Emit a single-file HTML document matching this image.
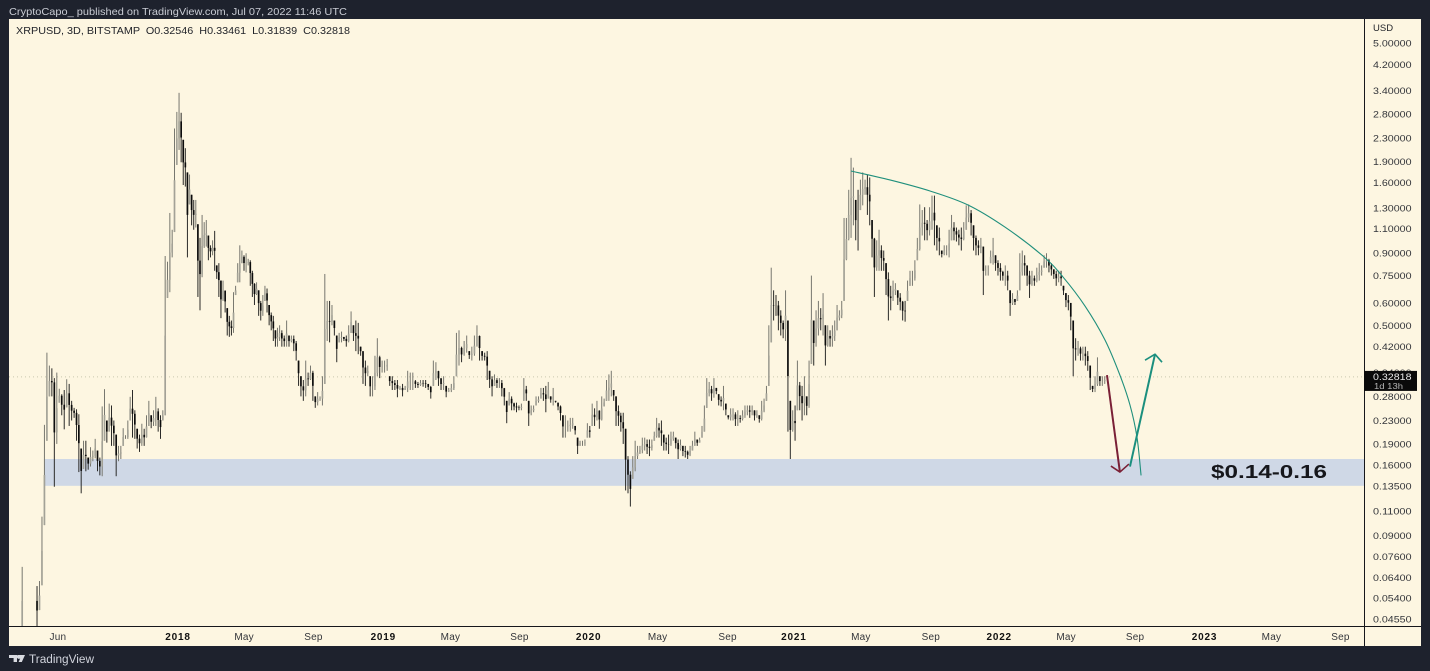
<!DOCTYPE html>
<html lang="en">
<head>
<meta charset="utf-8">
<title>XRPUSD 3D chart</title>
<style>
html,body{margin:0;padding:0;background:#1e222d;width:1430px;height:671px;overflow:hidden}
svg{display:block;font-family:"Liberation Sans",sans-serif}
</style>
</head>
<body>
<svg id="chart" xmlns="http://www.w3.org/2000/svg" width="1430" height="671" viewBox="0 0 1430 671">
  <defs><clipPath id="plot-clip"><rect x="9" y="19" width="1355" height="607"/></clipPath></defs>
  <rect x="0" y="0" width="1430" height="671" fill="#1e222d"/>
  <rect x="9" y="19" width="1412" height="627" fill="#fdf6e1"/>
  <text x="9" y="15" font-size="10.5" fill="#c9ccd4" textLength="338" lengthAdjust="spacingAndGlyphs">CryptoCapo_ published on TradingView.com, Jul 07, 2022 11:46 UTC</text>
  <g id="plot" clip-path="url(#plot-clip)"></g>
  <g id="axes"></g>
  <text x="16" y="34" font-size="10.5" fill="#22242a" textLength="334" lengthAdjust="spacingAndGlyphs" xml:space="preserve">XRPUSD, 3D, BITSTAMP  O0.32546  H0.33461  L0.31839  C0.32818</text>
  <text x="1373" y="31" font-size="9.5" fill="#22242a">USD</text>
  <g fill="#d9dbe1">
    <path d="M9 655h8v7h-3.4v-4H9zM17.6 655h7.4l-3.2 7h-3.2l1.6-3.6a1.6 1.6 0 0 1-2.6-3.4z"/>
    <text x="29" y="663" font-size="11.5" fill="#d1d4dc" textLength="65" lengthAdjust="spacingAndGlyphs">TradingView</text>
  </g>
</svg>
<script>
// Bars are sampled from the picture, grouped by half-year. Prices in USD; null = no bar.
const highs2017A = [.0697,null,null,null,null,null,.0596,.0621,.105,.222,.4,.36,.352,.325,.34,.298,.285,.295,.322,.31,.27,.255];
const lows2017A  = [.04,null,null,null,null,null,.04,.049,.06,.098,.195,.28,.28,.134,.19,.266,.24,.214,.256,.22,.23,.235];
const highs2017B = [.252,.242,.183,.195,.195,.17,.185,.18,.198,.18,.17,.258,.297,.23,.264,.26,.23,.205,.187,.187,.216,.204,.23,.279,.295,.25,.215,.205,.224,.215,.24,.27,.24,.25,.279,.254,.24,.25,.88,.84,1.25,1.09,2.49,2.85];
const lows2017B  = [.195,.151,.127,.155,.152,.154,.158,.165,.169,.152,.147,.146,.195,.192,.21,.187,.187,.146,.165,.168,.187,.198,.198,.23,.2,.198,.183,.178,.187,.187,.2,.22,.216,.22,.22,.21,.198,.23,.24,.625,.655,.87,1.07,1.85];
const highs2018A = [3.33,2.83,2.27,2.12,1.74,1.71,1.45,1.39,1.39,1.14,1.02,1.23,1.16,1.18,1.04,.96,1,1.08,.815,.83,.72,.72,.665,.575,.54,.52,.655,.69,.83,.96,.92,.885,.9,.86,.85,.78,.705,.71,.665,.61,.64,.69,.675,.59,.555,.54,.48,.49,.5];
const lows2018A  = [2.09,1.89,1.57,1.55,.87,1.34,1.13,1.09,1.11,.63,.565,.74,.94,.95,.85,.87,.885,.78,.73,.63,.53,.61,.555,.46,.455,.46,.47,.64,.71,.71,.83,.78,.77,.815,.69,.63,.59,.64,.54,.52,.54,.61,.555,.5,.48,.44,.42,.42,.44];
const highs2018B = [.48,.46,.52,.46,.46,.46,.44,.375,.33,.32,.375,.34,.36,.345,.28,.29,.28,.33,.76,.61,.61,.59,.52,.46,.47,.475,.455,.46,.5,.56,.5,.52,.51,.42,.405,.375,.36,.33,.33,.39,.45,.39,.375];
const lows2018B  = [.42,.42,.42,.42,.435,.405,.375,.305,.28,.27,.28,.305,.32,.27,.255,.26,.27,.26,.31,.44,.435,.5,.46,.37,.435,.435,.44,.42,.435,.47,.44,.405,.395,.39,.31,.305,.33,.28,.28,.295,.33,.325,.34];
const highs2019A = [.375,.38,.33,.33,.32,.32,.305,.31,.305,.345,.34,.34,.32,.315,.32,.32,.32,.31,.305,.375,.37,.345,.325,.33,.305,.3,.31,.33,.47,.48,.42,.44,.46,.405,.42,.46,.5,.46,.405,.4];
const lows2019A  = [.34,.345,.305,.295,.295,.278,.295,.28,.295,.29,.295,.295,.3,.3,.305,.303,.3,.295,.275,.305,.32,.305,.295,.295,.278,.29,.29,.295,.33,.36,.37,.39,.4,.38,.375,.39,.42,.375,.375,.375];
const highs2019B = [.405,.345,.33,.335,.325,.325,.32,.3,.27,.29,.28,.266,.266,.26,.264,.325,.305,.27,.26,.26,.28,.28,.3,.3,.305,.315,.28,.3,.27,.266,.26,.24,.24,.23,.235,.235,.22,.2,.195,.195,.197,.225];
const lows2019B  = [.32,.3,.28,.305,.3,.3,.28,.26,.225,.26,.25,.25,.246,.25,.25,.27,.27,.22,.24,.246,.26,.266,.275,.27,.246,.275,.266,.26,.266,.25,.23,.2,.2,.21,.21,.215,.205,.175,.187,.187,.187,.2];
const highs2020A = [.22,.264,.254,.27,.25,.28,.275,.32,.335,.345,.295,.28,.26,.245,.245,.215,.172,.152,.172,.195,.187,.187,.2,.2,.197,.197,.197,.21,.235,.225,.23,.205,.2,.205,.21,.21,.2,.197,.197,.187,.187,.18,.187];
const lows2020A  = [.2,.22,.22,.23,.215,.23,.258,.27,.27,.28,.27,.22,.22,.21,.19,.13,.127,.114,.143,.152,.168,.175,.176,.18,.175,.172,.18,.195,.2,.2,.187,.18,.18,.175,.187,.195,.183,.168,.18,.172,.17,.168,.172];
const highs2020B = [.195,.21,.197,.2,.22,.26,.325,.315,.305,.325,.3,.285,.28,.305,.264,.24,.254,.254,.246,.25,.24,.25,.26,.26,.26,.26,.25,.25,.24,.27,.275,.305,.5,.8,.665,.64,.61,.565,.52,.665,.52,.27,.25];
const lows2020B  = [.18,.187,.187,.192,.2,.21,.255,.28,.27,.277,.285,.26,.258,.25,.24,.232,.23,.23,.22,.22,.226,.23,.235,.24,.235,.24,.23,.235,.226,.23,.246,.27,.305,.435,.52,.54,.48,.46,.45,.44,.21,.168,.21];
const highs2021A = [.26,.375,.315,.305,.33,.28,.375,.75,.52,.565,.61,.575,.65,.5,.5,.48,.5,.52,.59,.565,.61,1.2,1.2,1.51,1.96,1.81,1.39,1.51,1.64,1.74,1.64,1.71,1.67,1.18,1.02,1,1.09,.96,.92,.83,.77,.69,.72,.705];
const lows2021A  = [.195,.25,.25,.23,.24,.24,.255,.365,.36,.42,.46,.48,.46,.36,.42,.42,.42,.44,.48,.52,.53,.61,.85,1,1.02,1.13,1,.92,1.28,1.33,1.45,1.23,1.13,.87,.63,.78,.78,.78,.78,.64,.52,.565,.61,.64];
const highs2021B = [.665,.65,.61,.61,.72,.78,.78,.85,1.02,1.34,1.28,1.31,1.18,1.31,1.44,1.44,1.13,1.11,.92,.96,.96,1.09,1.23,1.16,1.11,1.09,1.11,1.16,1.33,1.34,1.28,1.13,1.04,1,1.02,.95,.815,.815,.92,1.02,.885,.85];
const lows2021B  = [.59,.565,.52,.515,.61,.69,.69,.72,.85,.92,1.04,1,1,1.04,1.09,.96,.92,.885,.87,.885,.885,.87,1,1,.99,.96,.92,1,1.09,1.16,1.04,.92,.885,.885,.9,.64,.75,.75,.83,.82,.78,.75];
const highs2022A = [.83,.78,.815,.78,.665,.65,.62,.665,.9,.92,.885,.815,.78,.78,.75,.8,.83,.815,.885,.9,.86,.83,.79,.78,.78,.78,.69,.65,.64,.6,.52,.45,.44,.42,.42,.42,.405,.36,.305,.33,.385,.33,.33,.33];
const lows2022A  = [.72,.72,.69,.665,.54,.59,.59,.61,.665,.75,.75,.69,.625,.69,.69,.71,.72,.75,.8,.8,.77,.75,.73,.69,.71,.69,.64,.58,.565,.48,.33,.375,.39,.375,.375,.36,.345,.295,.29,.29,.305,.305,.305,.31];

// Half-year periods as decimal years, and the arrays that fill them
const periods = [
  {start: 2017.235, end: 2017.5, highs: highs2017A, lows: lows2017A},
  {start: 2017.5, end: 2018, highs: highs2017B, lows: lows2017B},
  {start: 2018, end: 2018.5, highs: highs2018A, lows: lows2018A},
  {start: 2018.5, end: 2019, highs: highs2018B, lows: lows2018B},
  {start: 2019, end: 2019.5, highs: highs2019A, lows: lows2019A},
  {start: 2019.5, end: 2020, highs: highs2019B, lows: lows2019B},
  {start: 2020, end: 2020.5, highs: highs2020A, lows: lows2020A},
  {start: 2020.5, end: 2021, highs: highs2020B, lows: lows2020B},
  {start: 2021, end: 2021.5, highs: highs2021A, lows: lows2021A},
  {start: 2021.5, end: 2022, highs: highs2021B, lows: lows2021B},
  {start: 2022, end: 2022.52, highs: highs2022A, lows: lows2022A}
];

const priceTicks = [5,4.2,3.4,2.8,2.3,1.9,1.6,1.3,1.1,.9,.75,.6,.5,.42,.34,.28,.23,.19,.16,.135,.11,.09,.076,.064,.054,.0455];
const priceTickLabels = ["5.00000","4.20000","3.40000","2.80000","2.30000","1.90000","1.60000","1.30000","1.10000","0.90000","0.75000","0.60000","0.50000","0.42000","0.34000","0.28000","0.23000","0.19000","0.16000","0.13500","0.11000","0.09000","0.07600","0.06400","0.05400","0.04550"];
const timeTicks = [2017.415,2018,2018.322,2018.66,2019,2019.327,2019.663,2020,2020.336,2020.677,2021,2021.326,2021.667,2022,2022.326,2022.662,2023,2023.326,2023.662];
const timeTickLabels = ["Jun","2018","May","Sep","2019","May","Sep","2020","May","Sep","2021","May","Sep","2022","May","Sep","2023","May","Sep"];

const lastPrice = 0.32818;
const supportZoneHigh = 0.168;
const supportZoneLow = 0.135;
const supportZoneStart = 2017.347;

const arcYears  = [2021.278,2021.468,2021.663,2021.848,2022.028,2022.213,2022.311,2022.418,2022.515,2022.588,2022.637,2022.671,2022.691];
const arcPrices = [1.76,1.636,1.495,1.334,1.114,.88,.741,.585,.444,.333,.261,.201,.147];
const downArrowYears  = [2022.525,2022.588];
const downArrowPrices = [.333,.151];
const upArrowYears  = [2022.637,2022.759];
const upArrowPrices = [.158,.395];

const SVG_NS = "http://www.w3.org/2000/svg";
const plot = document.getElementById("plot");
const axes = document.getElementById("axes");

// Axis functions: log price scale and linear time scale
function yScale(price) { return 43 + 122.6 * Math.log(5 / price); }
function xScale(year) { return 178 + 205.3 * (year - 2018); }

function make(tag, parent, attrs) {
  const el = document.createElementNS(SVG_NS, tag);
  for (const k in attrs) el.setAttribute(k, attrs[k]);
  parent.appendChild(el);
  return el;
}

// Support zone
const zone = make("rect", plot, {
  x: xScale(supportZoneStart), y: yScale(supportZoneHigh),
  width: 1364 - xScale(supportZoneStart), height: yScale(supportZoneLow) - yScale(supportZoneHigh),
  fill: "#cfd8e6"
});



// Last price dotted line
const lastLine = make("line", plot, {
  x1: 9, x2: 1364, y1: yScale(lastPrice), y2: yScale(lastPrice),
  stroke: "#c9c8ae", "stroke-width": 1, "stroke-dasharray": "1 3"
});



// Price bars
const barsGroup = make("g", plot, {});


let prevMid = null;
periods.forEach(function (p) {
  const n = p.highs.length;
  const span = p.end - p.start;
  for (let j = 0; j < n; j++) {
    const hi = p.highs[j], lo = p.lows[j];
    if (hi === null || lo === null) continue;
    const x = xScale(p.start + (j + 0.5) / n * span);
    const mid = Math.sqrt(hi * lo);
    const open = prevMid === null ? lo : prevMid;
    const rising = mid >= open;
    const wick = make("line", barsGroup, {
      x1: x, x2: x, y1: yScale(hi), y2: yScale(lo),
      stroke: rising ? "#77776f" : "#2a2a28", "stroke-width": 1
    });
    
    
    const top = Math.min(Math.max(open, mid), hi), bot = Math.max(Math.min(open, mid), lo);
    const body = make("line", barsGroup, {
      x1: x, x2: x, y1: yScale(top), y2: yScale(bot),
      stroke: rising ? "#a3a297" : "#0c0c0c", "stroke-width": 1.7
    });
    
    
    prevMid = mid;
  }
});

// Arc drawing (Catmull-Rom through the anchor points)
const arcPts = arcYears.map(function (t, i) { return [xScale(t), yScale(arcPrices[i])]; });
let arcD = "M" + arcPts[0][0] + " " + arcPts[0][1];
for (let i = 0; i < arcPts.length - 1; i++) {
  const a = arcPts[Math.max(i - 1, 0)], b = arcPts[i], c = arcPts[i + 1], d = arcPts[Math.min(i + 2, arcPts.length - 1)];
  arcD += " C" + (b[0] + (c[0] - a[0]) / 6) + " " + (b[1] + (c[1] - a[1]) / 6) + " " +
          (c[0] - (d[0] - b[0]) / 6) + " " + (c[1] - (d[1] - b[1]) / 6) + " " + c[0] + " " + c[1];
}
const arc = make("path", plot, {d: arcD, fill: "none", stroke: "#1f8f7c", "stroke-width": 1.1});



// Arrows
function arrow(years, prices, color, wingA, wingB) {
  const x1 = xScale(years[0]), y1 = yScale(prices[0]), x2 = xScale(years[1]), y2 = yScale(prices[1]);
  const g = make("g", plot, {fill: "none", stroke: color, "stroke-width": 2, "stroke-linejoin": "round"});
  make("line", g, {x1: x1, y1: y1, x2: x2, y2: y2});
  make("polyline", g, {"stroke-width": 1.6, points: (x2 + wingA[0]) + "," + (y2 + wingA[1]) + " " + x2 + "," + y2 + " " + (x2 + wingB[0]) + "," + (y2 + wingB[1])});
  return g;
}
const downArrow = arrow(downArrowYears, downArrowPrices, "#7a2036", [-9, -6], [9, -8]);


const upArrow = arrow(upArrowYears, upArrowPrices, "#1b8f7e", [-10, 6], [7, 8]);



// Zone label
const zoneLabel = make("text", plot, {
  x: 1211, y: 478, "font-size": 18, "font-weight": "bold", fill: "#16171b",
  textLength: 116, lengthAdjust: "spacingAndGlyphs"
});
zoneLabel.textContent = "$0.14-0.16";



// Axis lines
const xAxisLine = make("line", axes, {x1: 9, x2: 1421, y1: 626.5, y2: 626.5, stroke: "#16171b", "stroke-width": 1});


const yAxisLine = make("line", axes, {x1: 1364.5, x2: 1364.5, y1: 19, y2: 646, stroke: "#16171b", "stroke-width": 1});



// Price ticks
priceTicks.forEach(function (v, i) {
  const t = make("text", axes, {
    x: 1373, y: yScale(v) + 3.5, "font-size": 9.5, fill: "#33353a",
    textLength: priceTickLabels[i].length * 5.5, lengthAdjust: "spacingAndGlyphs"
  });
  t.textContent = priceTickLabels[i];
  
  
});

// Time ticks
timeTicks.forEach(function (v, i) {
  const label = timeTickLabels[i];
  const isYear = /^\d+$/.test(label);
  const t = make("text", axes, {
    x: xScale(v), y: 640, "font-size": 10, "text-anchor": "middle", fill: isYear ? "#111" : "#33353a",
    "font-weight": isYear ? "bold" : "normal", "letter-spacing": isYear ? "0.8" : "0.2"
  });
  t.textContent = label;
  
  
});

// Last price tag
const tagY = yScale(lastPrice);
const tag = make("rect", axes, {x: 1364, y: tagY - 6, width: 53, height: 20, fill: "#0a0a0a"});


const tagPrice = make("text", axes, {x: 1373, y: tagY + 3, "font-size": 9.5, fill: "#e8e8e8", textLength: 38.5, lengthAdjust: "spacingAndGlyphs"});
tagPrice.textContent = lastPrice.toFixed(5);


const tagTimer = make("text", axes, {x: 1374, y: tagY + 12, "font-size": 8.5, fill: "#b5b5b5", textLength: 29, lengthAdjust: "spacingAndGlyphs"});
tagTimer.textContent = "1d 13h";


</script>
</body>
</html>
